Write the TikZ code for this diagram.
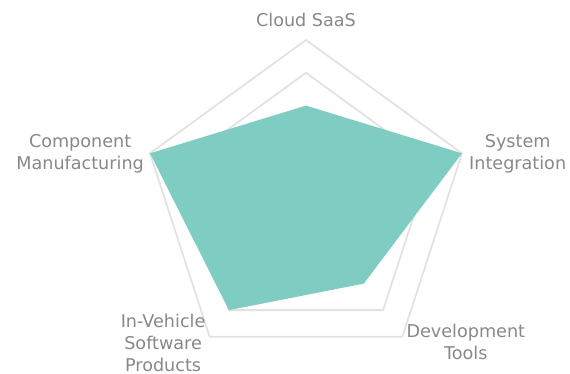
\documentclass[tikz,border=0pt]{standalone}
\usepackage{fontspec}
\setmainfont{DejaVu Sans}
\usetikzlibrary{calc}
\definecolor{ringgray}{HTML}{E2E2E2}
\definecolor{labelgray}{HTML}{888888}
\definecolor{areateal}{HTML}{7FCDC2}
\newcommand{\AxisFont}{\fontsize{17.6}{22}\selectfont}

\begin{document}
\begin{tikzpicture}[x=1pt, y=1pt,
ring/.style={draw=ringgray, line width=1.8pt, line join=miter},
area/.style={fill=areateal},
axislabel/.style={text=labelgray, font=\AxisFont, align=center, inner sep=0}]
\useasboundingbox (0,0) rectangle (570,374);
%%%%%%%%%%%%%%%%%%%%%%% CENTRE AND AXES %%%%%%%%%%%%%%%%%%%%%%%
\coordinate (O) at (306,170);
\foreach \ang [count=\i] in {90,18,-54,-126,162} {
  \coordinate (A\i) at ($(O)+(\ang:164)$);   % outer ring
  \coordinate (B\i) at ($(O)+(\ang:131.2)$); % inner ring
}
%%%%%%%% RINGS %%%%%%%%%%%%%
\draw[ring] (A1)--(A2)--(A3)--(A4)--(A5)--cycle;
\draw[ring] (B1)--(B2)--(B3)--(B4)--(B5)--cycle;
%%%%%%%% DATA %%%%%%%%%%%%%
\foreach \ang/\val [count=\i] in {90/0.6, 18/1, -54/0.6, -126/0.8, 162/1} {
  \coordinate (D\i) at ($(O)+(\ang:164*\val)$);
}
\fill[area] (D1)--(D2)--(D3)--(D4)--(D5)--cycle;
%%%%%%%% LABELS %%%%%%%%%%%%%
\node[axislabel, anchor=base] (cloud) at ([yshift=13]A1) {Cloud SaaS};
\node[axislabel, anchor=west] (integ) at ([xshift=7]A2) {System\\Integration};
\node[axislabel, anchor=west] (devtools) at ([xshift=4, yshift=-5]A3) {Development\\Tools};
\node[axislabel, anchor=east] (invehicle) at ([xshift=-4, yshift=-6]A4) {In-Vehicle\\Software\\Products};
\node[axislabel, anchor=east] (component) at ([xshift=-6]A5) {Component\\Manufacturing};
\end{tikzpicture}
\end{document}
